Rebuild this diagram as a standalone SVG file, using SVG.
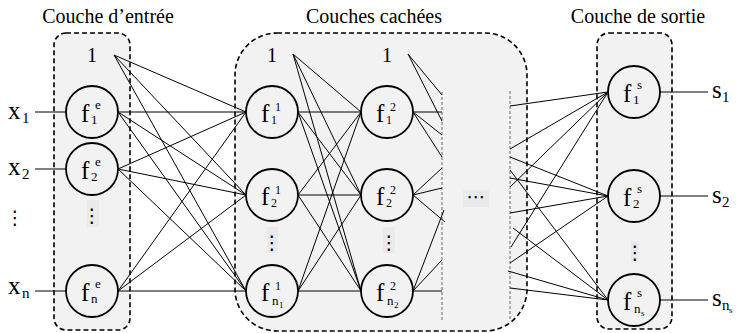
<svg xmlns="http://www.w3.org/2000/svg" width="737" height="333" viewBox="0 0 737 333">
<style>
.box{fill:#f2f2f2;stroke:#000;stroke-width:1.6;stroke-dasharray:5 3}
.sep{stroke:#666;stroke-width:1;stroke-dasharray:3 2;fill:none}
.n{fill:#f2f2f2;stroke:#000;stroke-width:1.8}
.c line{stroke:#000;stroke-width:1}
text{font-family:"Liberation Serif","Times New Roman",serif;fill:#000}
.t{font-size:20px}
.f{font-size:25px}
.s{font-size:13px}
.sd{font-size:12px}
.ss{font-size:9px}
.io{font-size:25px}
.ios{font-size:15px}
.d{font-family:"DejaVu Serif","DejaVu Sans",serif;font-size:19px;text-anchor:middle}
.db{fill:#eaeaea}
.mid{text-anchor:middle}
</style>

<g id="titles">
<text class="t mid" x="108" y="23">Couche d’entrée</text>
<text class="t mid" x="374" y="23">Couches cachées</text>
<text class="t mid" x="638" y="23">Couche de sortie</text>
</g>

<g id="layer-boxes">
<rect id="box-input" class="box" x="54" y="33" width="76" height="297" rx="12"/>
<rect id="box-hidden" class="box" x="235" y="33" width="292" height="298" rx="42"/>
<rect id="box-output" class="box" x="597" y="33" width="75" height="296" rx="12"/>
<line class="sep" x1="442" y1="92" x2="442" y2="320"/>
<line class="sep" x1="510" y1="91" x2="510" y2="320"/>
</g>

<g id="connectors" class="c">
<line x1="35" y1="112" x2="66" y2="112"/>
<line x1="35" y1="169" x2="66" y2="169"/>
<line x1="35" y1="291" x2="66" y2="291"/>
<line x1="114" y1="55" x2="246" y2="112"/>
<line x1="114" y1="55" x2="246" y2="195"/>
<line x1="114" y1="55" x2="246" y2="291"/>
<line x1="118" y1="112" x2="246" y2="112"/>
<line x1="118" y1="112" x2="246" y2="195"/>
<line x1="118" y1="112" x2="246" y2="291"/>
<line x1="118" y1="169" x2="246" y2="112"/>
<line x1="118" y1="169" x2="246" y2="195"/>
<line x1="118" y1="169" x2="246" y2="291"/>
<line x1="118" y1="291" x2="246" y2="112"/>
<line x1="118" y1="291" x2="246" y2="195"/>
<line x1="118" y1="291" x2="246" y2="291"/>
<line x1="293" y1="54" x2="361" y2="112"/>
<line x1="293" y1="54" x2="361" y2="195"/>
<line x1="293" y1="54" x2="361" y2="291"/>
<line x1="298" y1="112" x2="361" y2="112"/>
<line x1="298" y1="112" x2="361" y2="195"/>
<line x1="298" y1="112" x2="361" y2="291"/>
<line x1="298" y1="195" x2="361" y2="112"/>
<line x1="298" y1="195" x2="361" y2="195"/>
<line x1="298" y1="195" x2="361" y2="291"/>
<line x1="298" y1="291" x2="361" y2="112"/>
<line x1="298" y1="291" x2="361" y2="195"/>
<line x1="298" y1="291" x2="361" y2="291"/>
<line x1="408" y1="54" x2="442" y2="95"/>
<line x1="408" y1="54" x2="442" y2="121"/>
<line x1="413" y1="112" x2="442" y2="112"/>
<line x1="413" y1="112" x2="442" y2="135"/>
<line x1="413" y1="112" x2="442" y2="157"/>
<line x1="413" y1="195" x2="442" y2="168"/>
<line x1="413" y1="195" x2="442" y2="188"/>
<line x1="413" y1="195" x2="445" y2="222"/>
<line x1="413" y1="291" x2="444" y2="210"/>
<line x1="413" y1="291" x2="442" y2="260"/>
<line x1="413" y1="291" x2="442" y2="291"/>
<line x1="510" y1="106" x2="608" y2="92"/>
<line x1="510" y1="149" x2="608" y2="92"/>
<line x1="510" y1="187" x2="608" y2="92"/>
<line x1="511" y1="247" x2="608" y2="92"/>
<line x1="510" y1="157" x2="608" y2="196"/>
<line x1="510" y1="178" x2="608" y2="196"/>
<line x1="510" y1="213" x2="608" y2="196"/>
<line x1="510" y1="263" x2="608" y2="196"/>
<line x1="510" y1="170" x2="608" y2="300"/>
<line x1="513" y1="228" x2="608" y2="300"/>
<line x1="508" y1="271" x2="608" y2="300"/>
<line x1="510" y1="288" x2="608" y2="300"/>
<line x1="660" y1="92" x2="708" y2="92"/>
<line x1="660" y1="196" x2="708" y2="196"/>
<line x1="660" y1="300" x2="708" y2="300"/>
</g>

<g id="input-labels">
<text x="8" y="119"><tspan class="io">x</tspan><tspan class="ios" x="22" y="123">1</tspan></text>
<text x="8" y="175"><tspan class="io">x</tspan><tspan class="ios" x="22" y="179">2</tspan></text>
<text class="d" x="15" y="224">⋮</text>
<text x="8" y="294"><tspan class="io">x</tspan><tspan class="ios" x="22" y="298">n</tspan></text>
</g>

<g id="output-labels">
<text x="712" y="98"><tspan class="io">s</tspan><tspan class="ios" x="722" y="102">1</tspan></text>
<text x="712" y="203"><tspan class="io">s</tspan><tspan class="ios" x="722" y="207">2</tspan></text>
<text x="712" y="306"><tspan class="io">s</tspan><tspan class="ios" x="722" y="310">n</tspan><tspan class="ss" x="729" y="313">s</tspan></text>
</g>

<g id="bias-input"><text class="t mid" x="92" y="62">1</text></g>
<g id="bias-hidden1"><text class="t mid" x="272" y="62">1</text></g>
<g id="bias-hidden2"><text class="t mid" x="387" y="62">1</text></g>

<g id="fe1"><circle class="n" cx="92" cy="112" r="26"/><text x="81" y="122"><tspan class="f">f</tspan><tspan class="s" x="95" y="109">e</tspan><tspan class="s" x="91" y="124">1</tspan></text></g>
<g id="fe2"><circle class="n" cx="92" cy="169" r="26"/><text x="81" y="179"><tspan class="f">f</tspan><tspan class="s" x="95" y="166">e</tspan><tspan class="s" x="91" y="181">2</tspan></text></g>
<g id="dots-input"><rect class="db" x="87" y="200" width="12" height="27"/><text class="d" x="92" y="222">⋮</text></g>
<g id="fen"><circle class="n" cx="92" cy="291" r="26"/><text x="81" y="301"><tspan class="f">f</tspan><tspan class="s" x="95" y="288">e</tspan><tspan class="s" x="91" y="303">n</tspan></text></g>

<g id="f11"><circle class="n" cx="272" cy="112" r="26"/><text x="261" y="122"><tspan class="f">f</tspan><tspan class="sd" x="275" y="111">1</tspan><tspan class="sd" x="271" y="124">1</tspan></text></g>
<g id="f12"><circle class="n" cx="272" cy="195" r="26"/><text x="261" y="205"><tspan class="f">f</tspan><tspan class="sd" x="275" y="194">1</tspan><tspan class="sd" x="271" y="207">2</tspan></text></g>
<g id="dots-h1"><rect class="db" x="267" y="227" width="11" height="26"/><text class="d" x="272" y="249">⋮</text></g>
<g id="f1n"><circle class="n" cx="272" cy="291" r="26"/><text x="261" y="301"><tspan class="f">f</tspan><tspan class="sd" x="275" y="290">1</tspan><tspan class="s" x="272" y="305">n</tspan><tspan class="ss" x="279" y="308">1</tspan></text></g>

<g id="f21"><circle class="n" cx="387" cy="112" r="26"/><text x="376" y="122"><tspan class="f">f</tspan><tspan class="sd" x="390" y="111">2</tspan><tspan class="sd" x="386" y="124">1</tspan></text></g>
<g id="f22"><circle class="n" cx="387" cy="195" r="26"/><text x="376" y="205"><tspan class="f">f</tspan><tspan class="sd" x="390" y="194">2</tspan><tspan class="sd" x="386" y="207">2</tspan></text></g>
<g id="dots-h2"><rect class="db" x="383" y="227" width="12" height="26"/><text class="d" x="389" y="249">⋮</text></g>
<g id="f2n"><circle class="n" cx="387" cy="291" r="26"/><text x="376" y="301"><tspan class="f">f</tspan><tspan class="sd" x="390" y="290">2</tspan><tspan class="s" x="387" y="305">n</tspan><tspan class="ss" x="394" y="308">2</tspan></text></g>

<g id="ellipsis-hidden"><rect class="db" x="463" y="190" width="26" height="17"/><text class="d" x="476" y="203">⋯</text></g>

<g id="fs1"><circle class="n" cx="634" cy="92" r="26"/><text x="623" y="102"><tspan class="f">f</tspan><tspan class="s" x="637" y="89">s</tspan><tspan class="s" x="633" y="104">1</tspan></text></g>
<g id="fs2"><circle class="n" cx="634" cy="196" r="26"/><text x="623" y="206"><tspan class="f">f</tspan><tspan class="s" x="637" y="193">s</tspan><tspan class="s" x="633" y="208">2</tspan></text></g>
<g id="dots-output"><rect class="db" x="631" y="241" width="8" height="21"/><text class="d" x="635" y="259">⋮</text></g>
<g id="fsn"><circle class="n" cx="634" cy="300" r="26"/><text x="623" y="310"><tspan class="f">f</tspan><tspan class="s" x="637" y="297">s</tspan><tspan class="s" x="634" y="313">n</tspan><tspan class="ss" x="641" y="316">s</tspan></text></g>
</svg>
